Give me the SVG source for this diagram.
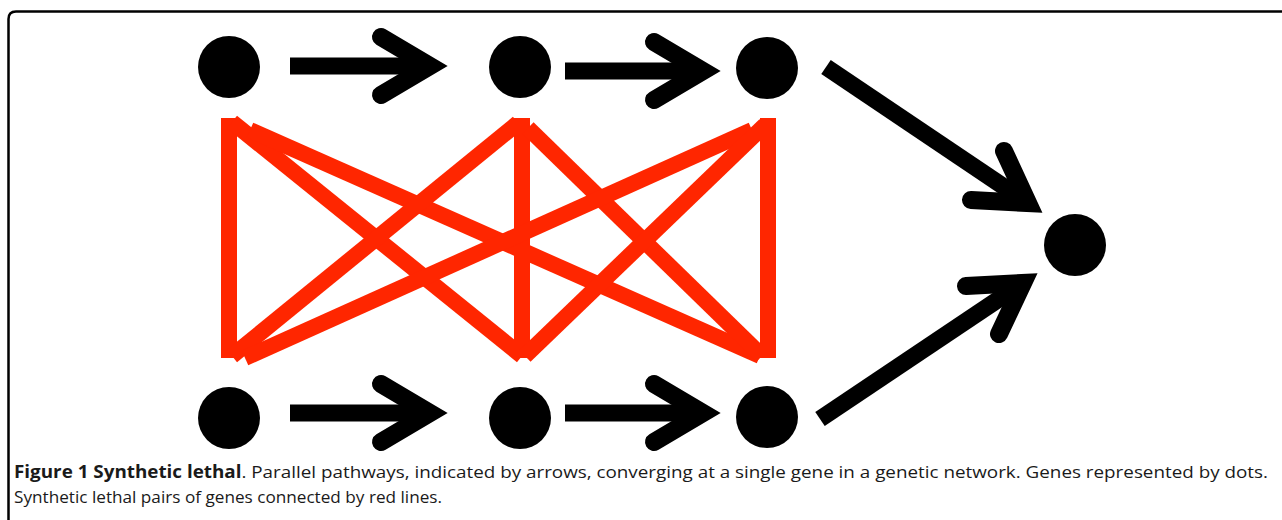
<svg xmlns="http://www.w3.org/2000/svg" width="1282" height="520" viewBox="0 0 1282 520">
<style>
.gene{fill:#000}
.shaft{stroke:#000;stroke-width:17;fill:none;stroke-linecap:butt}
.head{stroke:#000;stroke-width:18;fill:none;stroke-linecap:round;stroke-linejoin:miter;stroke-miterlimit:6}
.sl{stroke:#ff2600;stroke-width:16;fill:none;stroke-linecap:butt}
.cap{font-family:"Open Sans","Liberation Sans",sans-serif;font-size:17px;fill:#1a1a1a}
</style>
<rect width="1282" height="520" fill="#fff"/>
<path d="M8.5,520 V19 Q8.5,11.5 16,11.5 H1282" fill="none" stroke="#000" stroke-width="2.5"/>
<g id="connectors">
  <g id="synthetic-lethal">
    <line class="sl" x1="229" y1="118" x2="229" y2="358"/>
    <line class="sl" x1="232" y1="122" x2="522" y2="356"/>
    <line class="sl" x1="250" y1="130" x2="760" y2="356"/>
    <line class="sl" x1="518" y1="123" x2="232" y2="356"/>
    <line class="sl" x1="522" y1="118" x2="522" y2="358"/>
    <line class="sl" x1="528" y1="128" x2="762" y2="356"/>
    <line class="sl" x1="752" y1="130" x2="245" y2="358"/>
    <line class="sl" x1="765" y1="125" x2="525" y2="356"/>
    <line class="sl" x1="768" y1="118" x2="768" y2="358"/>
  </g>
  <g id="arrows">
    <line class="shaft" x1="290" y1="66" x2="432" y2="66"/>
    <polyline class="head" points="381,37 430,66 381,95"/>
    <line class="shaft" x1="565" y1="71" x2="705" y2="71"/>
    <polyline class="head" points="654,42 703,71 654,100"/>
    <line class="shaft" x1="290" y1="413" x2="432" y2="413"/>
    <polyline class="head" points="381,384 430,413 381,442"/>
    <line class="shaft" x1="565" y1="413" x2="705" y2="413"/>
    <polyline class="head" points="654,384 703,413 654,442"/>
    <line class="shaft" x1="826" y1="67" x2="1028" y2="203"/>
    <polyline class="head" points="1004,151 1028,203 971,200"/>
    <line class="shaft" x1="820" y1="419" x2="1023" y2="283"/>
    <polyline class="head" points="966,286 1023,283 999,334"/>
  </g>
</g>
<g id="gene-top-1"><circle class="gene" cx="229" cy="67" r="31"/></g>
<g id="gene-top-2"><circle class="gene" cx="520" cy="67" r="31"/></g>
<g id="gene-top-3"><circle class="gene" cx="767" cy="68" r="31"/></g>
<g id="gene-bottom-1"><circle class="gene" cx="229" cy="418" r="31"/></g>
<g id="gene-bottom-2"><circle class="gene" cx="520" cy="418" r="31"/></g>
<g id="gene-bottom-3"><circle class="gene" cx="767" cy="417" r="31"/></g>
<g id="gene-converge"><circle class="gene" cx="1075" cy="245" r="31"/></g>
<g id="caption">
  <text class="cap" x="14" y="478" textLength="1254" lengthAdjust="spacingAndGlyphs"><tspan font-weight="bold">Figure 1 Synthetic lethal</tspan>. Parallel pathways, indicated by arrows, converging at a single gene in a genetic network. Genes represented by dots.</text>
  <text class="cap" x="14" y="503" textLength="428" lengthAdjust="spacingAndGlyphs">Synthetic lethal pairs of genes connected by red lines.</text>
</g>
</svg>
